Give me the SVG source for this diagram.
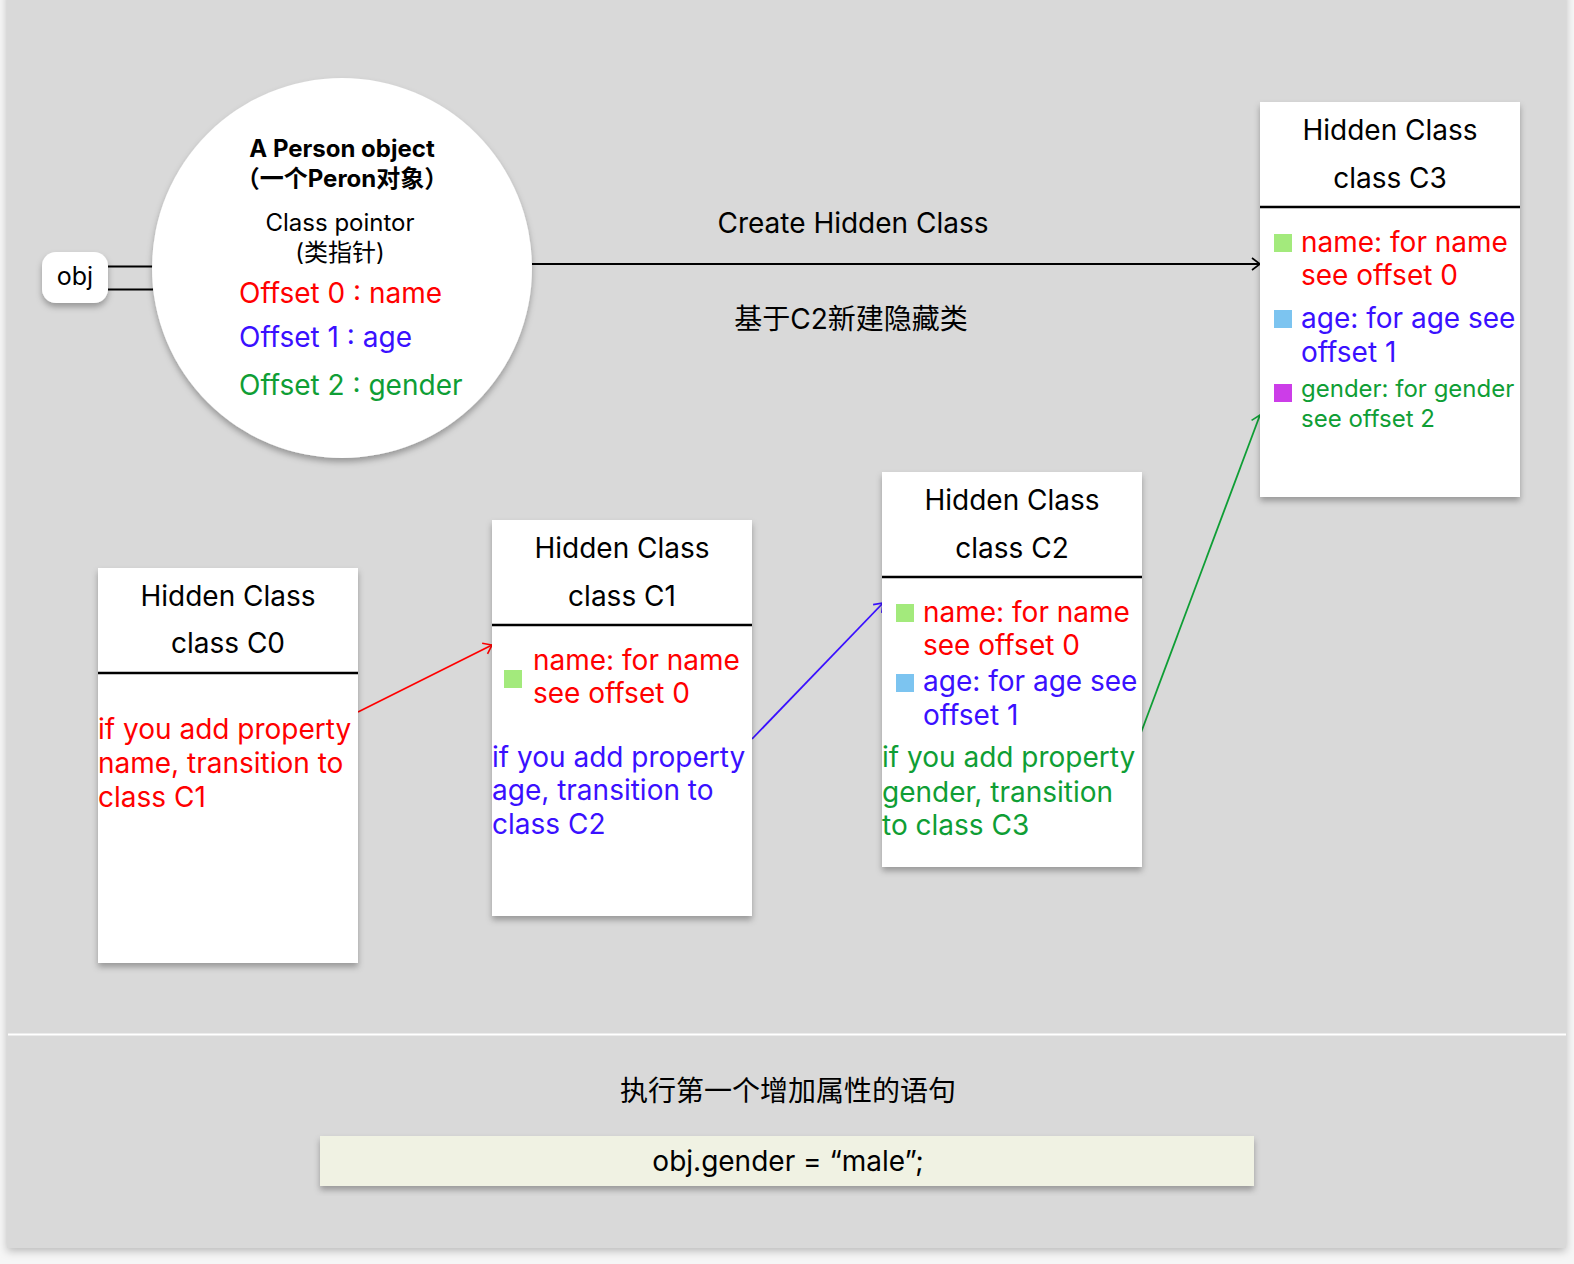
<svg xmlns="http://www.w3.org/2000/svg" width="1574" height="1264" viewBox="0 0 1574 1264">
<defs>
<filter id="sh" x="-20%" y="-20%" width="140%" height="140%">
<feDropShadow dx="0" dy="4" stdDeviation="3" flood-color="#000" flood-opacity="0.3"/>
</filter>
<filter id="psh" x="-5%" y="-5%" width="110%" height="110%">
<feDropShadow dx="0" dy="3" stdDeviation="4" flood-color="#000" flood-opacity="0.25"/>
</filter>
<marker id="arrK" markerWidth="14" markerHeight="14" refX="11" refY="7" orient="auto" markerUnits="userSpaceOnUse">
<path d="M3,1 L11,7 L3,13" fill="none" stroke="#000" stroke-width="1.6"/>
</marker>
<marker id="arrR" markerWidth="14" markerHeight="14" refX="11" refY="7" orient="auto" markerUnits="userSpaceOnUse">
<path d="M3,1 L11,7 L3,13" fill="none" stroke="#ff0000" stroke-width="1.6"/>
</marker>
<marker id="arrB" markerWidth="14" markerHeight="14" refX="11" refY="7" orient="auto" markerUnits="userSpaceOnUse">
<path d="M3,1 L11,7 L3,13" fill="none" stroke="#3a10ff" stroke-width="1.6"/>
</marker>
<marker id="arrG" markerWidth="14" markerHeight="14" refX="11" refY="7" orient="auto" markerUnits="userSpaceOnUse">
<path d="M3,1 L11,7 L3,13" fill="none" stroke="#0f9e35" stroke-width="1.6"/>
</marker>
</defs>
<style>
text{font-family:Inter,"Noto Sans","Noto Sans CJK SC",sans-serif;}
.box{fill:#fff;filter:url(#sh);}
.div{stroke:#000;stroke-width:2.5;}
.t{font-size:28px;fill:#000;text-anchor:middle;}
.p{font-size:28px;}
.r{fill:#ff0000;}
.b{fill:#3a10ff;}
.g{fill:#0f9e35;}
.sqg{fill:#a3ea7c;}
.sqb{fill:#7cc4f0;}
.sqp{fill:#cc3de8;}
</style>
<rect x="0" y="0" width="1574" height="1264" fill="#f6f6f6"/>
<rect x="7" y="-10" width="1559" height="1258" fill="#d9d9d9" filter="url(#psh)"/>
<line x1="8" y1="1034.5" x2="1566" y2="1034.5" stroke="#fff" stroke-width="2"/>

<g id="connectors">
<line x1="108" y1="266.5" x2="153" y2="266.5" stroke="#000" stroke-width="2"/>
<line x1="108" y1="289.5" x2="153" y2="289.5" stroke="#000" stroke-width="2"/>
<line x1="532" y1="264" x2="1260" y2="264" stroke="#000" stroke-width="1.8" marker-end="url(#arrK)"/>
<line x1="358" y1="712" x2="492" y2="645" stroke="#ff0000" stroke-width="1.8" marker-end="url(#arrR)"/>
<line x1="752" y1="739" x2="883" y2="603" stroke="#3a10ff" stroke-width="1.8" marker-end="url(#arrB)"/>
<line x1="1136" y1="746" x2="1260" y2="415" stroke="#0f9e35" stroke-width="1.8" marker-end="url(#arrG)"/>
</g>

<g id="edge-labels">
<text x="853" y="233" font-size="28" text-anchor="middle" fill="#000">Create Hidden Class</text>
<text x="851" y="329" font-size="28" text-anchor="middle" fill="#000">基于C2新建隐藏类</text>
</g>

<g id="obj">
<rect x="42" y="252" width="66" height="51" rx="14" class="box"/>
<text x="75" y="285" font-size="25" text-anchor="middle" fill="#000">obj</text>
</g>

<g id="person">
<circle cx="342" cy="268" r="190" class="box"/>
<text x="342" y="157" font-size="24" font-weight="bold" text-anchor="middle" fill="#000">A Person object</text>
<text x="342" y="187" font-size="24" font-weight="bold" text-anchor="middle" fill="#000">（一个Peron对象）</text>
<text x="340" y="231" font-size="24" text-anchor="middle" fill="#000">Class pointor</text>
<text x="340" y="261" font-size="24" text-anchor="middle" fill="#000">(类指针)</text>
<text x="239" y="303" class="p r">Offset 0 : name</text>
<text x="239" y="347" class="p b">Offset 1 : age</text>
<text x="239" y="395" class="p g">Offset 2 : gender</text>
</g>

<g id="c0">
<rect x="98" y="568" width="260" height="395" class="box"/>
<text x="228" y="606" class="t">Hidden Class</text>
<text x="228" y="653" class="t">class C0</text>
<line x1="98" y1="673" x2="358" y2="673" class="div"/>
<text x="98" y="739" class="p r">if you add property</text>
<text x="98" y="773" class="p r">name, transition to</text>
<text x="98" y="807" class="p r">class C1</text>
</g>

<g id="c1">
<rect x="492" y="520" width="260" height="396" class="box"/>
<text x="622" y="558" class="t">Hidden Class</text>
<text x="622" y="606" class="t">class C1</text>
<line x1="492" y1="625" x2="752" y2="625" class="div"/>
<rect x="504" y="670" width="18" height="18" class="sqg"/>
<text x="533" y="670" class="p r">name: for name</text>
<text x="533" y="703" class="p r">see offset 0</text>
<text x="492" y="767" class="p b">if you add property</text>
<text x="492" y="800" class="p b">age, transition to</text>
<text x="492" y="834" class="p b">class C2</text>
</g>

<g id="c2">
<rect x="882" y="472" width="260" height="395" class="box"/>
<text x="1012" y="510" class="t">Hidden Class</text>
<text x="1012" y="558" class="t">class C2</text>
<line x1="882" y1="577" x2="1142" y2="577" class="div"/>
<rect x="896" y="604" width="18" height="18" class="sqg"/>
<text x="923" y="622" class="p r">name: for name</text>
<text x="923" y="655" class="p r">see offset 0</text>
<rect x="896" y="674" width="18" height="18" class="sqb"/>
<text x="923" y="691" class="p b">age: for age see</text>
<text x="923" y="725" class="p b">offset 1</text>
<text x="882" y="767" class="p g">if you add property</text>
<text x="882" y="802" class="p g">gender, transition</text>
<text x="882" y="835" class="p g">to class C3</text>
</g>

<g id="c3">
<rect x="1260" y="102" width="260" height="395" class="box"/>
<text x="1390" y="140" class="t">Hidden Class</text>
<text x="1390" y="188" class="t">class C3</text>
<line x1="1260" y1="207" x2="1520" y2="207" class="div"/>
<rect x="1274" y="234" width="18" height="18" class="sqg"/>
<text x="1301" y="252" class="p r">name: for name</text>
<text x="1301" y="285" class="p r">see offset 0</text>
<rect x="1274" y="310" width="18" height="18" class="sqb"/>
<text x="1301" y="328" class="p b">age: for age see</text>
<text x="1301" y="362" class="p b">offset 1</text>
<rect x="1274" y="384" width="18" height="18" class="sqp"/>
<text x="1301" y="397" font-size="24" class="g">gender: for gender</text>
<text x="1301" y="427" font-size="24" class="g">see offset 2</text>
</g>

<g id="caption">
<text x="788" y="1101" font-size="28" text-anchor="middle" fill="#000">执行第一个增加属性的语句</text>
</g>

<g id="code">
<rect x="320" y="1136" width="934" height="50" fill="#f0f2e3" filter="url(#sh)"/>
<text x="788" y="1171" font-size="28" text-anchor="middle" fill="#000">obj.gender = “male”;</text>
</g>
</svg>
